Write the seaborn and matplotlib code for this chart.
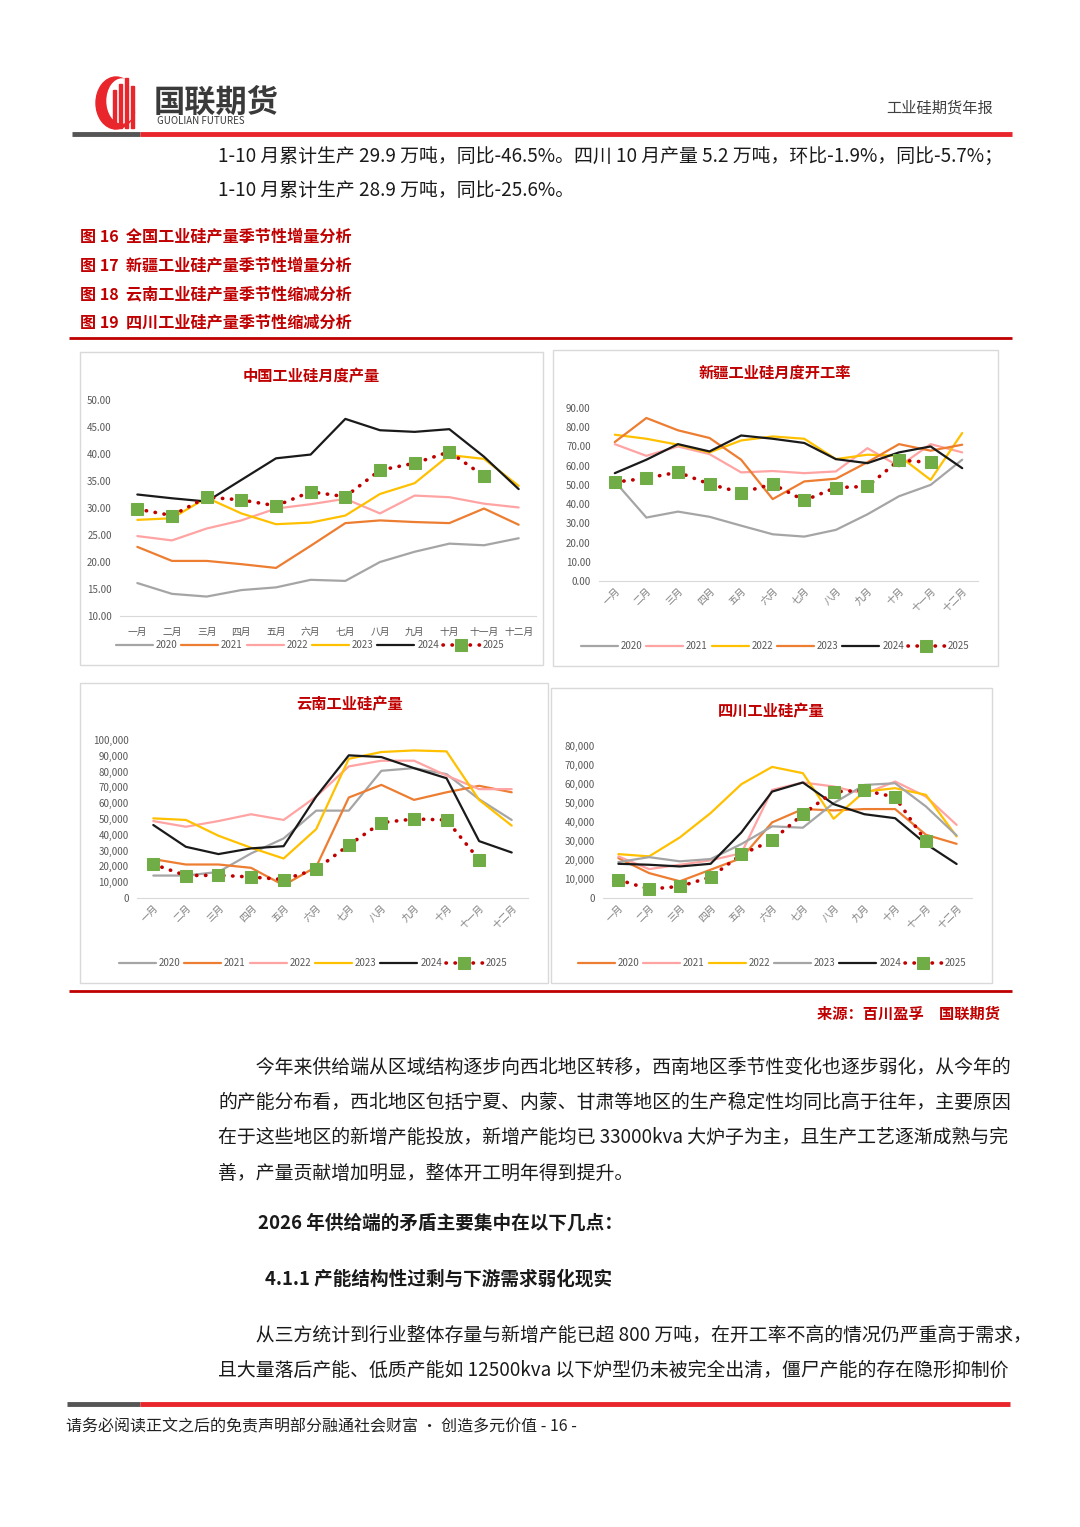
import numpy as np
import pandas as pd
import seaborn as sns
import matplotlib.pyplot as plt
from matplotlib.patches import Rectangle, Ellipse

months = ['一月', '二月', '三月', '四月', '五月', '六月', '七月', '八月', '九月', '十月', '十一月', '十二月']
years = ['2020', '2021', '2022', '2023', '2024', '2025']

# 中国工业硅月度产量 (万吨)
cn_2020 = [16.1, 14.1, 13.6, 14.8, 15.3, 16.7, 16.5, 20.0, 21.9, 23.4, 23.1, 24.4]
cn_2021 = [22.8, 20.2, 20.2, 19.6, 18.9, 23.0, 27.2, 27.7, 27.4, 27.2, 29.9, 26.9]
cn_2022 = [24.8, 24.0, 26.2, 27.7, 29.9, 30.7, 31.7, 29.0, 32.3, 32.0, 30.8, 30.1]
cn_2023 = [27.8, 28.1, 31.9, 29.0, 27.0, 27.3, 28.6, 32.6, 34.6, 39.8, 39.1, 34.1]
cn_2024 = [32.5, 31.8, 31.2, 35.2, 39.2, 39.9, 46.5, 44.4, 44.1, 44.6, 39.5, 33.5]
cn_2025 = [29.8, 28.6, 32.0, 31.5, 30.4, 33.0, 32.1, 37.0, 38.3, 40.4, 35.9]

# 新疆工业硅月度开工率
xj_2020 = [51.8, 33.0, 36.1, 33.4, 28.8, 24.3, 23.1, 26.6, 34.7, 44.1, 50.0, 63.1]
xj_2021 = [71.2, 65.1, 70.0, 66.0, 56.5, 57.2, 56.1, 57.0, 69.1, 59.6, 71.2, 66.9]
xj_2022 = [76.1, 74.0, 70.9, 66.9, 73.1, 75.2, 74.0, 63.4, 65.7, 65.1, 52.6, 77.0]
xj_2023 = [72.3, 84.8, 78.4, 74.4, 63.1, 42.6, 51.8, 53.2, 61.8, 71.2, 67.8, 70.9]
xj_2024 = [56.1, 63.1, 71.2, 67.4, 75.7, 74.0, 71.8, 63.4, 61.3, 66.9, 70.0, 58.7]
xj_2025 = [51.4, 53.5, 56.6, 50.4, 46.0, 50.4, 41.9, 48.6, 49.2, 62.9, 61.7]

# 云南工业硅产量 (吨)
yn_2020 = [14200, 14200, 16500, 28200, 37700, 55300, 55300, 80500, 82200, 78400, 62500, 49400]
yn_2021 = [24600, 21200, 21200, 19100, 8100, 19700, 63600, 71600, 62100, 66900, 71000, 66900]
yn_2022 = [48700, 45100, 48700, 53000, 49400, 64200, 83300, 86900, 86900, 77500, 68900, 68900]
yn_2023 = [50400, 49400, 39400, 31800, 25000, 43600, 88100, 92400, 93400, 92800, 62100, 45800]
yn_2024 = [46200, 32400, 27800, 31400, 32800, 64200, 90300, 89200, 82200, 75800, 36000, 28800]
yn_2025 = [21400, 14200, 14400, 13300, 11700, 18200, 33500, 47700, 50000, 49400, 24200]

# 四川工业硅产量 (吨)
sc_2020 = [21000, 13100, 8800, 14900, 21000, 39800, 46800, 46100, 46800, 46800, 33300, 28500]
sc_2021 = [21900, 15200, 17500, 19800, 23600, 56900, 60800, 58700, 54800, 61300, 53400, 38500]
sc_2022 = [23100, 21900, 31900, 44700, 59900, 69000, 65700, 41700, 56000, 57800, 54300, 32400]
sc_2023 = [18900, 21500, 19300, 20500, 28400, 37700, 37000, 49900, 59500, 60400, 48200, 32900]
sc_2024 = [18000, 17500, 16600, 18000, 34500, 56000, 60800, 49400, 44100, 42000, 28500, 17900]
sc_2025 = [9600, 4700, 6100, 11000, 22900, 30300, 44100, 55900, 56600, 53100, 29800]

GRAY = '#A5A5A5'
ORANGE = '#ED7D31'
PINK = '#FFA3A3'
YELLOW = '#FFC000'
BLACK = '#1A1A1A'
RED = '#C00000'
GREEN = '#70AD47'
BRED = '#E8262B'

sns.set_style('white')
plt.rcParams['font.family'] = ['Noto Sans CJK SC', 'DejaVu Sans']
plt.rcParams['axes.unicode_minus'] = False

W, H = 1080, 1527
fig = plt.figure(figsize=(10.8, 15.27), dpi=100)
fig.patch.set_facecolor('white')

page = fig.add_axes([0, 0, 1, 1])
page.set_xlim(0, W)
page.set_ylim(H, 0)
page.axis('off')


def hline(x0, x1, y, color, lw):
    page.plot([x0, x1], [y, y], color=color, lw=lw, solid_capstyle='butt')


# header
page.add_patch(Ellipse((116, 103), 40, 52, color=BRED))
page.add_patch(Ellipse((122, 101), 30, 44, color='white'))
for bx, top in [(113, 90), (119, 84), (125, 78), (131, 86)]:
    page.add_patch(Rectangle((bx, top), 3, 128 - top, color=BRED))
page.text(154, 103, '国联期货', fontsize=22.5, fontweight='bold', color='#3A3A3A', va='center')
page.text(157, 121, 'GUOLIAN FUTURES', fontsize=7, color='#3A3A3A', va='center')
page.text(993, 108, '工业硅期货年报', fontsize=11, color='#404040', va='center', ha='right')
hline(72, 140, 134, '#555555', 3.5)
hline(140, 1012, 134, BRED, 3.5)

body = dict(fontsize=13.6, color='#1A1A1A', va='center')
page.text(218, 156, '1-10 月累计生产 29.9 万吨，同比-46.5%。四川 10 月产量 5.2 万吨，环比-1.9%，同比-5.7%；', **body)
page.text(218, 191, '1-10 月累计生产 28.9 万吨，同比-25.6%。', **body)

captions = ['图 16  全国工业硅产量季节性增量分析', '图 17  新疆工业硅产量季节性增量分析',
            '图 18  云南工业硅产量季节性缩减分析', '图 19  四川工业硅产量季节性缩减分析']
for i, c in enumerate(captions):
    page.text(80, 237 + i * 28.5, c, fontsize=11.6, fontweight='bold', color=RED, va='center')
hline(69, 1012, 338, RED, 2)

# chart boxes
for (x0, y0, x1, y1) in [(80, 352, 543, 665), (553, 350, 998, 666), (80, 683, 548, 983), (551, 688, 992, 983)]:
    page.add_patch(Rectangle((x0, y0), x1 - x0, y1 - y0, fill=False, ec='#D9D9D9', lw=1))

hline(69, 1012, 991, RED, 2)
page.text(1000, 1014, '来源：百川盈孚　国联期货', fontsize=11, fontweight='bold', color=RED, va='center', ha='right')

para1 = ['　　今年来供给端从区域结构逐步向西北地区转移，西南地区季节性变化也逐步弱化，从今年的',
         '的产能分布看，西北地区包括宁夏、内蒙、甘肃等地区的生产稳定性均同比高于往年，主要原因',
         '在于这些地区的新增产能投放，新增产能均已 33000kva 大炉子为主，且生产工艺逐渐成熟与完',
         '善，产量贡献增加明显，整体开工明年得到提升。']
for i, t in enumerate(para1):
    page.text(218, 1067 + i * 35.3, t, **body)
page.text(258, 1223, '2026 年供给端的矛盾主要集中在以下几点：', fontsize=13.4, fontweight='bold', color='#1A1A1A', va='center')
page.text(265, 1279, '4.1.1 产能结构性过剩与下游需求弱化现实', fontsize=13.4, fontweight='bold', color='#1A1A1A', va='center')
para2 = ['　　从三方统计到行业整体存量与新增产能已超 800 万吨，在开工率不高的情况仍严重高于需求，',
         '且大量落后产能、低质产能如 12500kva 以下炉型仍未被完全出清，僵尸产能的存在隐形抑制价']
for i, t in enumerate(para2):
    page.text(218, 1335 + i * 35.3, t, **body)

hline(67, 140, 1404, '#555555', 3.5)
hline(140, 1010, 1404, BRED, 3.5)
page.text(66, 1427, '请务必阅读正文之后的免责声明部分融通社会财富 • 创造多元价值 - 16 -', fontsize=11.5,
          color='#222222', va='center')


def chart(box, series, colors, ymax, ystep, fmt, rotate, title, title_xy, leg_xy, ymin=0):
    l, r, b, t = box
    ax = fig.add_axes([l / W, 1 - b / H, (r - l) / W, (b - t) / H])
    ax.patch.set_alpha(0)
    for label, vals, col in zip(years, series, colors):
        x = months[:len(vals)]
        if label == '2025':
            sns.lineplot(x=x, y=vals, ax=ax, sort=False, color=RED, lw=2.6, label=label,
                         linestyle=(0, (0.1, 2.4)), dash_capstyle='round', marker='s',
                         markersize=8, markerfacecolor=GREEN, markeredgecolor=GREEN, zorder=5)
        else:
            sns.lineplot(x=x, y=vals, ax=ax, sort=False, color=col, lw=1.6, label=label)
    ax.set_xlim(-0.5, 11.5)
    ax.set_ylim(ymin, ymax)
    ax.set_yticks(np.arange(ymin, ymax + ystep / 2, ystep))
    ax.set_yticklabels([fmt(v) for v in ax.get_yticks()])
    for s in ['top', 'right', 'left']:
        ax.spines[s].set_visible(False)
    ax.spines['bottom'].set_color('#D9D9D9')
    ax.tick_params(length=0, labelsize=7, colors='#595959')
    ax.tick_params(axis='y', pad=6)
    ax.set_xlabel('')
    ax.set_ylabel('')
    if rotate:
        plt.setp(ax.get_xticklabels(), rotation=45, ha='right', rotation_mode='anchor', color='#7F7F7F')
    else:
        ax.tick_params(axis='x', pad=8)
    page.text(title_xy[0], title_xy[1], title, fontsize=11, fontweight='bold', color=RED,
              ha='center', va='center')
    h, lb = ax.get_legend_handles_labels()
    ax.legend(h, lb, ncol=6, frameon=False, fontsize=7, labelcolor='#595959', handlelength=3.8,
              handletextpad=0.3, columnspacing=0.4, loc='center',
              bbox_to_anchor=(leg_xy[0] / W, 1 - leg_xy[1] / H), bbox_transform=fig.transFigure)
    return ax


chart((120, 536, 616, 400), [cn_2020, cn_2021, cn_2022, cn_2023, cn_2024, cn_2025],
      [GRAY, ORANGE, PINK, YELLOW, BLACK, RED], 50, 5, lambda v: f'{v:.2f}', False,
      '中国工业硅月度产量', (311, 376), (310, 645), ymin=10)
chart((599, 978, 581, 408), [xj_2020, xj_2021, xj_2022, xj_2023, xj_2024, xj_2025],
      [GRAY, PINK, YELLOW, ORANGE, BLACK, RED], 90, 10, lambda v: f'{v:.2f}', True,
      '新疆工业硅月度开工率', (775, 373), (775, 646))
chart((137, 528, 898, 740), [yn_2020, yn_2021, yn_2022, yn_2023, yn_2024, yn_2025],
      [GRAY, ORANGE, PINK, YELLOW, BLACK, RED], 100000, 10000, lambda v: f'{v:,.0f}', True,
      '云南工业硅产量', (350, 704), (313, 963))
chart((603, 972, 898, 746), [sc_2020, sc_2021, sc_2022, sc_2023, sc_2024, sc_2025],
      [ORANGE, PINK, YELLOW, GRAY, BLACK, RED], 80000, 10000, lambda v: f'{v:,.0f}', True,
      '四川工业硅产量', (771, 711), (772, 963))

fig.savefig('out.png', dpi=100)
plt.close(fig)
